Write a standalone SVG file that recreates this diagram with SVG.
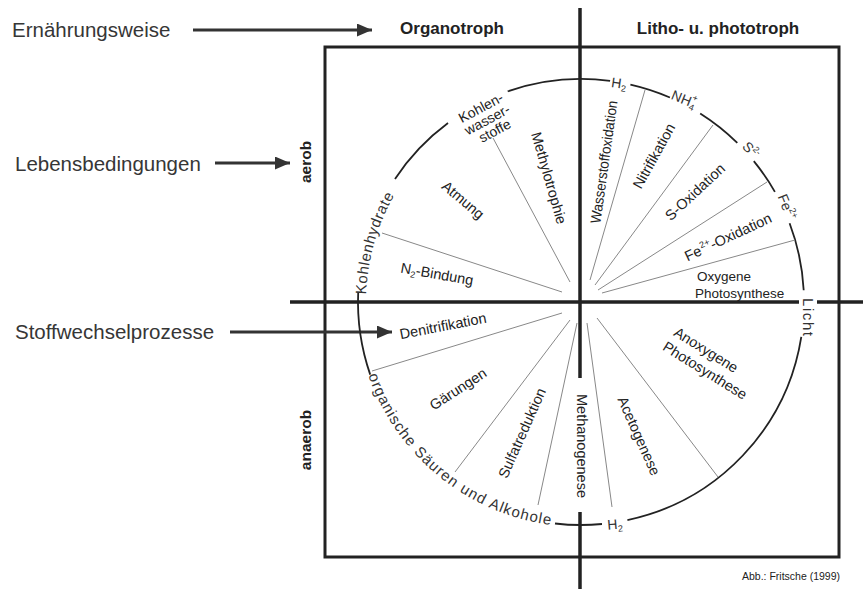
<svg xmlns="http://www.w3.org/2000/svg" width="863" height="589" viewBox="0 0 863 589">
<defs>
<style>
text{font-family:"Liberation Sans",Arial,Helvetica,sans-serif;fill:#222}
.side{font-size:20.5px;fill:#363636}
.head{font-size:17px;font-weight:bold}
.cond{font-size:15.5px;font-weight:bold}
.lab{font-size:14.5px}
.arc{font-size:15px;fill:#333}
.small{font-size:14px;fill:#333}
.sub{font-size:9px}
.axis{stroke:#222;stroke-width:3.5;fill:none}
.frame{stroke:#222;stroke-width:3;fill:none}
.circ{stroke:#222;stroke-width:1.8;fill:none}
.spoke{stroke:#888;stroke-width:1;fill:none}
.arrow{stroke:#333;stroke-width:3;fill:none}
</style>
<marker id="ah" markerUnits="userSpaceOnUse" markerWidth="15" markerHeight="13" refX="15" refY="6.5" orient="auto">
<path d="M0,0 L15,6.5 L0,13 Z" fill="#333"/>
</marker>
<path id="pKH" d="M366.1,294.5 A215,215 0 0 1 404.9,178.7"/>
<path id="pOS" d="M368.3,375.3 A225,225 0 0 0 553.6,525.3"/>
</defs>
<rect width="863" height="589" fill="#fff"/>

<g id="frame">
<rect class="frame" x="325" y="47" width="514" height="510"/>
</g>

<g id="connectors">
<line class="axis" x1="580" y1="8" x2="580" y2="378"/>
<line class="axis" x1="580" y1="512" x2="580" y2="589"/>
<line class="axis" x1="290" y1="302" x2="799" y2="302"/>
<line class="axis" x1="817" y1="302" x2="863" y2="302"/>
<line class="arrow" x1="193" y1="30" x2="372" y2="30" marker-end="url(#ah)"/>
<line class="arrow" x1="215" y1="163" x2="290" y2="163" marker-end="url(#ah)"/>
<line class="arrow" x1="230" y1="332" x2="392" y2="332" marker-end="url(#ah)"/>
<g id="circle">
<path class="circ" d="M507.7,91.4 A223,223 0 0 1 610.1,80.9"/>
<path class="circ" d="M630.4,84.6 A223,223 0 0 1 669.9,97.5"/>
<path class="circ" d="M700.2,113.5 A223,223 0 0 1 737.3,142.9"/>
<path class="circ" d="M753.8,161.1 A223,223 0 0 1 774.9,191.9"/>
<path class="circ" d="M789.6,223.2 A223,223 0 0 1 803.7,290.3"/>
<path class="circ" d="M801.3,336.9 A223,223 0 0 1 627.4,520.1"/>
<path class="circ" d="M602,524 A223,223 0 0 1 555,523.5"/>
<path class="circ" d="M370.2,374.6 A223,223 0 0 1 358.2,292.3"/>
<path class="circ" d="M395,178.9 A223,223 0 0 1 448,123"/>
</g>
<g id="spokes">
<line class="spoke" x1="493" y1="138" x2="570" y2="282"/>
<line class="spoke" x1="382" y1="233" x2="562" y2="292"/>
<line class="spoke" x1="645" y1="90" x2="590" y2="280"/>
<line class="spoke" x1="713" y1="125" x2="595" y2="285"/>
<line class="spoke" x1="767" y1="182" x2="598" y2="290"/>
<line class="spoke" x1="795" y1="240" x2="602" y2="293"/>
<line class="spoke" x1="372" y1="371" x2="562" y2="313"/>
<line class="spoke" x1="455" y1="472" x2="570" y2="320"/>
<line class="spoke" x1="538" y1="505" x2="577" y2="323"/>
<line class="spoke" x1="718" y1="477" x2="597" y2="318"/>
<line class="spoke" x1="612" y1="507" x2="587" y2="323"/>
</g>
</g>

<g id="legend">
<text class="side" x="12" y="37">Ernährungsweise</text>
<text class="side" x="15" y="170.5">Lebensbedingungen</text>
<text class="side" x="15" y="339">Stoffwechselprozesse</text>
</g>

<g id="columns">
<text class="head" x="452" y="34" text-anchor="middle">Organotroph</text>
<text class="head" x="718" y="34" text-anchor="middle">Litho- u. phototroph</text>
</g>

<g id="rows">
<text class="cond" transform="translate(311,162) rotate(-90)" text-anchor="middle">aerob</text>
<text class="cond" transform="translate(311,440) rotate(-90)" text-anchor="middle">anaerob</text>
</g>

<g id="substrates">
<text class="arc"><textPath href="#pKH" textLength="104" lengthAdjust="spacing">Kohlenhydrate</textPath></text>
<text class="arc"><textPath href="#pOS" textLength="248" lengthAdjust="spacing">organische Säuren und Alkohole</textPath></text>
<g transform="translate(488,119) rotate(-28)" class="small">
<text x="-1" y="-8.5" text-anchor="middle">Kohlen-</text>
<text x="-1" y="5" text-anchor="middle">wasser-</text>
<text x="0.5" y="18.5" text-anchor="middle">stoffe</text>
</g>
<text class="small" transform="translate(619,83) rotate(8)" text-anchor="middle" y="5">H<tspan class="sub" dy="3">2</tspan></text>
<text class="small" transform="translate(684,99) rotate(22)" text-anchor="middle" y="5">NH<tspan class="sub" dy="3">4</tspan><tspan class="sub" dx="-5" dy="-10">+</tspan></text>
<text class="small" transform="translate(751,150) rotate(48)" text-anchor="middle" y="5">S<tspan class="sub" dy="-6">2-</tspan></text>
<text class="small" transform="translate(787,207) rotate(68)" text-anchor="middle" y="5">Fe<tspan class="sub" dy="-6">2+</tspan></text>
<text class="arc" transform="translate(808,317) rotate(90)" text-anchor="middle" y="5" textLength="38" lengthAdjust="spacing">Licht</text>
<text class="small" transform="translate(615,525) rotate(-5)" text-anchor="middle" y="4">H<tspan class="sub" dy="3">2</tspan></text>
</g>

<g id="processes" class="lab">
<text transform="translate(549,178) rotate(74)" text-anchor="middle" y="5">Methylotrophie</text>
<text transform="translate(463,200) rotate(40)" text-anchor="middle" y="5">Atmung</text>
<text transform="translate(437,274) rotate(10)" text-anchor="middle" y="5">N<tspan class="sub" dy="3">2</tspan><tspan dy="-3">-Bindung</tspan></text>
<text transform="translate(604,162) rotate(-82)" text-anchor="middle" y="5" textLength="124" lengthAdjust="spacingAndGlyphs">Wasserstoffoxidation</text>
<text transform="translate(654,156) rotate(-61)" text-anchor="middle" y="5">Nitrifikation</text>
<text transform="translate(695,192) rotate(-43)" text-anchor="middle" y="5">S-Oxidation</text>
<text transform="translate(728,237) rotate(-25)" text-anchor="middle" y="5">Fe<tspan class="sub" dx="1" dy="-6">2+</tspan><tspan dy="6">-Oxidation</tspan></text>
<text x="697" y="281" font-size="13.5">Oxygene</text>
<text x="695" y="298" font-size="13.5">Photosynthese</text>
<text transform="translate(443,326) rotate(-11)" text-anchor="middle" y="5">Denitrifikation</text>
<text transform="translate(458,389) rotate(-33)" text-anchor="middle" y="5">Gärungen</text>
<text transform="translate(522,433) rotate(-66)" text-anchor="middle" y="5">Sulfatreduktion</text>
<text transform="translate(582,446) rotate(90)" text-anchor="middle" y="5">Methanogenese</text>
<text transform="translate(639,436) rotate(66)" text-anchor="middle" y="5">Acetogenese</text>
<g transform="translate(705,361) rotate(32)">
<text x="-5" y="-5" text-anchor="middle">Anoxygene</text>
<text x="5" y="13" text-anchor="middle">Photosynthese</text>
</g>
</g>

<g id="credit">
<text x="840" y="580" text-anchor="end" font-size="10.5" fill="#444">Abb.: Fritsche (1999)</text>
</g>
</svg>
